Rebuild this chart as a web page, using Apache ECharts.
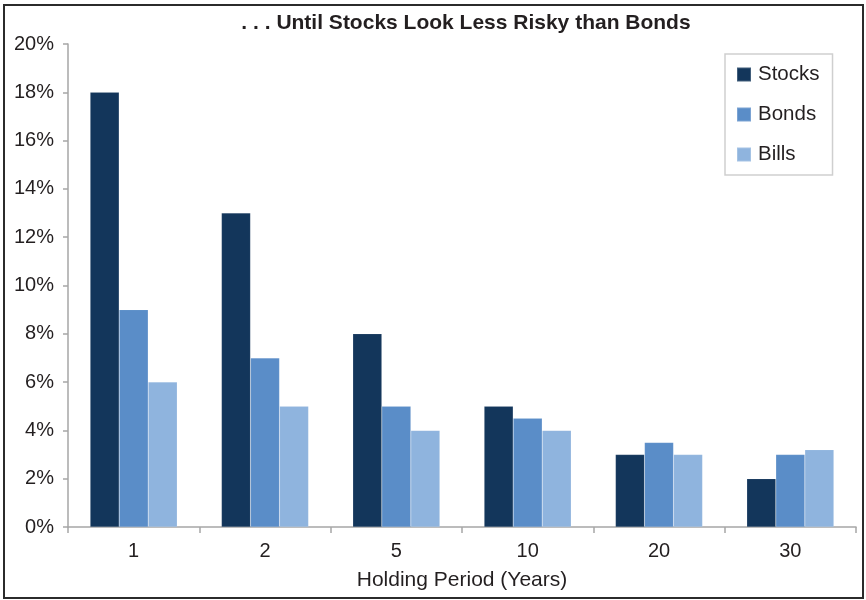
<!DOCTYPE html>
<html>
<head>
<meta charset="utf-8">
<style>
  html, body { margin: 0; padding: 0; background: #ffffff; }
  #chart { width: 866px; height: 600px; }
</style>
<script src="https://cdn.jsdelivr.net/npm/echarts@6/dist/echarts.min.js"></script>
</head>
<body>
<div id="chart"></div>
<script>
// Holding periods (years) and standard deviation of annualized returns (%)
const periods = ['1', '2', '5', '10', '20', '30'];
const stocks = [18, 13, 8, 5, 3, 2];
const bonds = [9, 7, 5, 4.5, 3.5, 3];
const bills = [6, 5, 4, 4, 3, 3.2];

const FONT = '"Liberation Sans", Arial, Helvetica, sans-serif';
const TEXT = '#231f20';
const AXIS = '#a6a6a6';

const chart = echarts.init(document.getElementById('chart'), null, { renderer: 'canvas' });

function barSeries(name, data, color) {
  return {
    name: name,
    type: 'bar',
    data: data,
    barGap: '0%',
    barCategoryGap: '33.7%',
    itemStyle: { color: color, borderColor: 'rgba(255,255,255,0.2)', borderWidth: 0.5 },
    emphasis: { disabled: true }
  };
}

chart.setOption({
  animation: false,
  backgroundColor: '#ffffff',
  textStyle: { fontFamily: FONT, color: TEXT },
  title: {
    text: '. . . Until Stocks Look Less Risky than Bonds',
    left: 461,
    textAlign: 'center',
    top: 8,
    textStyle: { fontFamily: FONT, fontSize: 21, fontWeight: 'bold', color: TEXT }
  },
  graphic: [{
    type: 'rect',
    shape: { x: 4, y: 5, width: 859, height: 593 },
    style: { fill: 'none', stroke: '#2b2b2b', lineWidth: 2 },
    silent: true
  }],
  legend: {
    orient: 'vertical',
    left: 725,
    top: 54,
    padding: [10, 13, 10, 11],
    itemGap: 19,
    itemWidth: 14,
    itemHeight: 14,
    icon: 'rect',
    borderColor: '#cfcfcf',
    borderWidth: 1.5,
    textStyle: { fontFamily: FONT, fontSize: 20.5, color: TEXT, padding: [0, 0, 0, 2] },
    data: ['Stocks', 'Bonds', 'Bills']
  },
  grid: { left: 68, right: 10, top: 44, bottom: 73, containLabel: false },
  xAxis: {
    type: 'category',
    data: periods,
    name: 'Holding Period (Years)',
    nameLocation: 'middle',
    nameGap: 43,
    nameTextStyle: { fontFamily: FONT, fontSize: 21, color: TEXT },
    axisLine: { show: true, lineStyle: { color: AXIS, width: 1.5 } },
    axisTick: { show: true, alignWithLabel: false, length: 6, lineStyle: { color: AXIS, width: 1.5 } },
    axisLabel: { fontFamily: FONT, fontSize: 20, color: TEXT, margin: 14 },
    splitLine: { show: false }
  },
  yAxis: {
    type: 'value',
    min: 0,
    max: 20,
    interval: 2,
    axisLine: { show: true, lineStyle: { color: AXIS, width: 1.5 } },
    axisTick: { show: true, length: 5, lineStyle: { color: AXIS, width: 1.5 } },
    axisLabel: { fontFamily: FONT, fontSize: 20, color: TEXT, margin: 14, formatter: '{value}%' },
    splitLine: { show: false }
  },
  series: [
    barSeries('Stocks', stocks, '#13365b'),
    barSeries('Bonds', bonds, '#5a8dc8'),
    barSeries('Bills', bills, '#8fb4de')
  ]
});
</script>
</body>
</html>
